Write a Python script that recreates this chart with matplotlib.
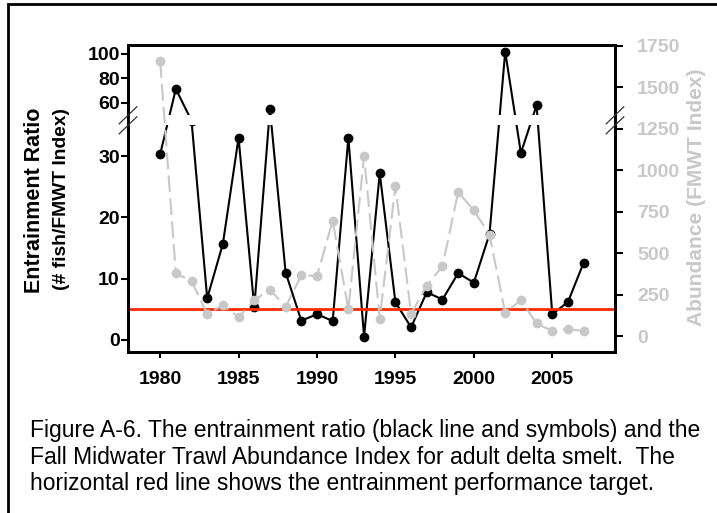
import matplotlib
matplotlib.use("Agg")
import matplotlib.pyplot as plt
import numpy as np
from matplotlib.lines import Line2D
from matplotlib.patches import Rectangle

plt.rcParams['font.family'] = ['Liberation Sans', 'DejaVu Sans']

years = list(range(1980, 2008))
# entrainment ratio (# fish / FMWT index), left broken axis
ratio = [30.3, 71.4, 42.0, 6.8, 15.7, 33.0, 5.3, 55.1, 11.0, 3.15,
         4.2, 3.1, 33.0, 0.55, 27.2, 6.15, 2.07, 7.8, 6.6, 10.9,
         9.35, 17.3, 101.9, 30.5, 58.1, 4.2, 6.2, 12.6]
# FMWT abundance index, right axis
abundance = [1658, 378, 333, 133, 187, 113, 217, 281, 177, 367,
             363, 695, 161, 1084, 106, 904, 133, 305, 422, 869,
             759, 610, 140, 217, 76, 30, 42, 30]
target = 5
left_ticks = [0, 10, 20, 30, 60, 80, 100]
right_ticks = [0, 250, 500, 750, 1000, 1250, 1500, 1750]
year_ticks = [1980, 1985, 1990, 1995, 2000, 2005]
caption = ("Figure A-6. The entrainment ratio (black line and symbols) and the\n"
           "Fall Midwater Trawl Abundance Index for adult delta smelt.  The\n"
           "horizontal red line shows the entrainment performance target.")

GRAY = '#c8c8c8'
LO, HI = 35.0, 50.0          # broken section of the left axis
GAP = 1.66
UP = 0.2                     # upper section compression


def fwd(v):
    v = np.asarray(v, dtype=float)
    return np.where(v <= LO, v,
                    np.where(v < HI, LO + (v - LO) * GAP / (HI - LO),
                             LO + GAP + (v - HI) * UP))


def inv(t):
    t = np.asarray(t, dtype=float)
    return np.where(t <= LO, t,
                    np.where(t < LO + GAP, LO + (t - LO) * (HI - LO) / GAP,
                             HI + (t - LO - GAP) / UP))


W, H = 717, 513
fig = plt.figure(figsize=(W / 100, H / 100), dpi=100)
ax = fig.add_axes([128 / W, (H - 352) / H, (615 - 128) / W, (352 - 45) / H])
ax.set_yscale('function', functions=(fwd, inv))

ax.plot(years, ratio, color='black', lw=1.5, marker='o', ms=6, zorder=2)
ax.axhspan(LO, HI, xmin=0.003, xmax=0.997, color='white', zorder=3, lw=0)
ax.axhline(target, color='#ff2a00', lw=2, zorder=4)

ax.set_xlim(1977.95, 2009.0)
ax.set_ylim(-1.96, 107.3)
ax.set_yticks(left_ticks)
ax.set_yticklabels([str(t) for t in left_ticks])
ax.set_xticks(year_ticks)
ax.minorticks_off()
ax.tick_params(axis='y', direction='out', length=5, width=1.5, pad=1, labelsize=14)
ax.tick_params(axis='x', direction='out', length=4, width=1.5, pad=10, labelsize=14)
for lab in ax.get_xticklabels() + ax.get_yticklabels():
    lab.set_fontweight('bold')
for sp in ax.spines.values():
    sp.set_linewidth(2)

ax2 = ax.twinx()
ax2.plot(years, abundance, color=GRAY, lw=1.5, dashes=(8, 3),
         marker='o', ms=6, mec=GRAY, mfc=GRAY)
ax2.set_ylim(-96, 1756)
ax2.set_yticks(right_ticks)
ax2.tick_params(axis='y', direction='out', length=6, width=1.5, pad=10,
                labelsize=14, labelcolor=GRAY)
for lab in ax2.get_yticklabels():
    lab.set_fontweight('bold')
for sp in ax2.spines.values():
    sp.set_linewidth(2)

# axis break marks on both sides
fig.canvas.draw()
inv_fig = fig.transFigure.inverted()
for xa in (ax.get_xlim()[0], ax.get_xlim()[1]):
    cx, cy = ax.transData.transform((xa, 42.5))
    for off in (-5, 5):
        p0 = inv_fig.transform((cx - 8.8, cy - 8.5 + off))
        p1 = inv_fig.transform((cx + 8.8, cy + 8.5 + off))
        fig.add_artist(Line2D([p0[0], p1[0]], [p0[1], p1[1]], color='#333333', lw=0.9))

fig.text(35 / W, 1 - 200 / H, 'Entrainment Ratio', rotation=90, ha='center', va='center',
         fontsize=15.5, fontweight='bold')
fig.text(61 / W, 1 - 199 / H, '(# fish/FMWT Index)', rotation=90, ha='center', va='center',
         fontsize=13.9, fontweight='bold')
fig.text(697 / W, 1 - 197 / H, 'Abundance (FMWT Index)', rotation=90, ha='center', va='center',
         fontsize=15.1, fontweight='bold', color=GRAY)

fig.text(30 / W, 1 - 419 / H, caption, ha='left', va='top', fontsize=16.5, linespacing=1.2)

fig.add_artist(Rectangle((8 / W, -0.1), 2, 1.1 - 4 / H, transform=fig.transFigure,
                         fill=False, ec='black', lw=2))

fig.savefig('out.png', dpi=100)
